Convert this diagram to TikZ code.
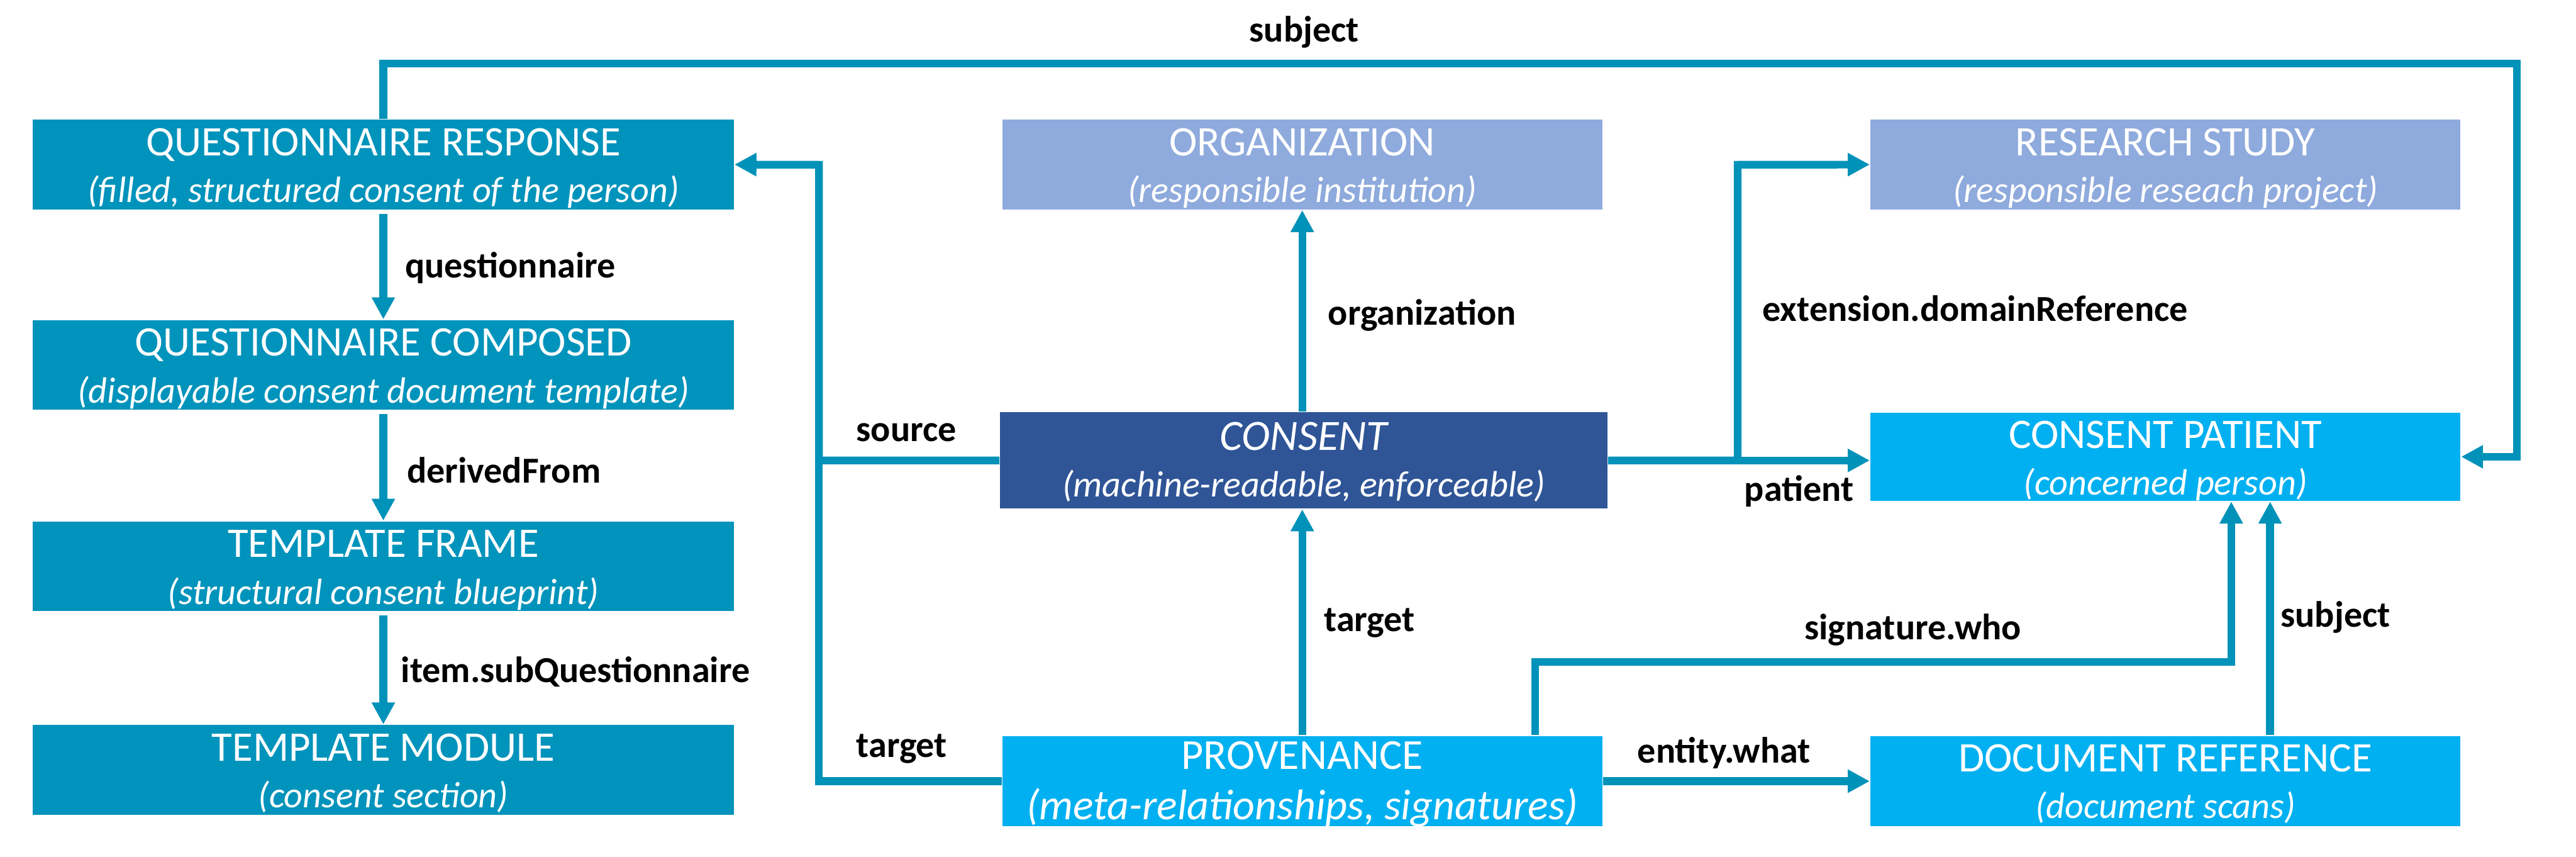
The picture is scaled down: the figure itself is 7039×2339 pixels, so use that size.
\documentclass[tikz,border=0pt]{standalone}
\usepackage{fontspec}
\setmainfont{Carlito}
\usetikzlibrary{arrows.meta}
\definecolor{lnk}{RGB}{0,146,185}
\definecolor{qteal}{RGB}{0,147,187}
\definecolor{lav}{RGB}{143,170,220}
\definecolor{cnavy}{RGB}{47,85,151}
\definecolor{sky}{RGB}{0,176,240}
\begin{document}
\begin{tikzpicture}[x=0.1pt,y=-0.1pt,
  box/.style={rectangle, inner sep=0pt, minimum height=24.5pt},
  ttl/.style={anchor=base, text=white, inner sep=0pt, font=\fontsize{11.5}{12}\selectfont},
  sub/.style={anchor=base, text=white, inner sep=0pt, font=\fontsize{10}{12}\selectfont\itshape},
  conn/.style={draw=lnk, line width=2.1pt},
  arr/.style={conn, -{Triangle[length=6pt,width=6pt]}},
  lbl/.style={font=\fontsize{10}{12}\selectfont\bfseries, text=black, inner sep=0pt}]
\useasboundingbox (0,0) rectangle (7039,2339);

% boxes
\node[box, fill=qteal, minimum width=191.5pt] (qr) at (1047.5,449.5) {};
\node[box, fill=qteal, minimum width=191.5pt] (qc) at (1047.5,996.5) {};
\node[box, fill=qteal, minimum width=191.5pt] (tf) at (1047.5,1546.5) {};
\node[box, fill=qteal, minimum width=191.5pt] (tm) at (1047.5,2103) {};
\node[box, fill=lav, minimum width=163.9pt] (org) at (3558.5,449.5) {};
\node[box, fill=lav, minimum width=161.2pt] (rs) at (5917,449.5) {};
\node[box, fill=cnavy, minimum width=165.9pt, minimum height=26.3pt] (con) at (3562.5,1257.5) {};
\node[box, fill=sky, minimum width=161.2pt, minimum height=24.1pt] (cp) at (5917,1247.5) {};
\node[box, fill=sky, minimum width=163.9pt, minimum height=24.7pt] (prov) at (3558.5,2133.5) {};
\node[box, fill=sky, minimum width=161.2pt, minimum height=24.7pt] (dr) at (5917,2133.5) {};

% texts
\node[ttl] at ([yshift=-10pt]qr.north) {QUESTIONNAIRE RESPONSE};
\node[sub] at ([yshift=-22.8pt]qr.north) {(filled, structured consent of the person)};
\node[ttl] at ([yshift=-10pt]qc.north) {QUESTIONNAIRE COMPOSED};
\node[sub] at ([yshift=-22.8pt]qc.north) {(displayable consent document template)};
\node[ttl] at ([yshift=-10pt]tf.north) {TEMPLATE FRAME};
\node[sub] at ([yshift=-22.8pt]tf.north) {(structural consent blueprint)};
\node[ttl] at ([yshift=-10pt]tm.north) {TEMPLATE MODULE};
\node[sub] at ([yshift=-22.8pt]tm.north) {(consent section)};
\node[ttl] at ([yshift=-10pt]org.north) {ORGANIZATION};
\node[sub] at ([yshift=-22.8pt]org.north) {(responsible institution)};
\node[ttl] at ([yshift=-10pt]rs.north) {RESEARCH STUDY};
\node[sub] at ([yshift=-22.8pt]rs.north) {(responsible reseach project)};
\node[ttl, font=\fontsize{11.8}{12}\selectfont\itshape] at ([yshift=-10.6pt]con.north) {CONSENT};
\node[sub] at ([yshift=-23.2pt]con.north) {(machine-readable, enforceable)};
\node[ttl] at ([yshift=-10pt]cp.north) {CONSENT PATIENT};
\node[sub] at ([yshift=-22.6pt]cp.north) {(concerned person)};
\node[ttl, font=\fontsize{11.7}{12}\selectfont] at ([yshift=-9.3pt]prov.north) {PROVENANCE};
\node[sub, font=\fontsize{11.7}{12}\selectfont\itshape] at ([yshift=-23pt]prov.north) {(meta-relationships, signatures)};
\node[ttl] at ([yshift=-10pt]dr.north) {DOCUMENT REFERENCE};
\node[sub] at ([yshift=-22.7pt]dr.north) {(document scans)};

% junction coordinates
\coordinate (jl) at (2238,450);
\coordinate (jr) at (4748,450);
\coordinate (sj) at (6878,173);
\coordinate (sw) at (4195,1808);
\coordinate (sw2) at (6097,1808);
\coordinate (sd) at (6203,1700);

% connectors
\draw[arr] (qr.north) |- (sj) |- (cp.east);
\draw[arr, shorten <=1pt] (qr.south) -- (qc.north);
\draw[arr, shorten <=1pt] (qc.south) -- (tf.north);
\draw[arr, shorten <=1pt] (tf.south) -- (tm.north);
\draw[arr] (con.west) -| (jl) -- (qr.east);
\draw[conn] (prov.west) -| (jl);
\draw[arr] (con.north -| org.south) -- (org.south);
\draw[arr] (prov.north) -- (prov.north |- con.south);
\draw[arr] (con.east) -| (jr) -- (rs.west);
\draw[arr] (con.east) -- (con.east -| cp.west);
\draw[arr] (prov.north -| sw) |- (sw2) -- (cp.south -| sw2);
\draw[arr] (dr.north -| sd) -- (cp.south -| sd);
\draw[arr] (prov.east) -- (prov.east -| dr.west);

% labels
\node[lbl] (l1) at (3564,88) {subject};
\node[lbl, anchor=west] (l2) at (1105,731) {questionnaire};
\node[lbl, anchor=west] (l3) at (1110,1284) {derivedFrom};
\node[lbl, anchor=west] (l4) at (1094,1835) {item.subQuestionnaire};
\node[lbl, anchor=west] (l5) at (2338,1181) {source};
\node[lbl, anchor=west] (l6) at (2338,2045) {target};
\node[lbl, anchor=west] (l7) at (3627,861) {organization};
\node[lbl, anchor=west] (l8) at (3616,1701) {target};
\node[lbl, anchor=west] (l9) at (4814,842) {extension.domainReference};
\node[lbl, anchor=west] (l10) at (4765,1341) {patient};
\node[lbl] (l11) at (5227,1720) {signature.who};
\node[lbl] (l12) at (4711,2057) {entity.what};
\node[lbl, anchor=west] (l13) at (6230,1686) {subject};
\end{tikzpicture}
\end{document}
